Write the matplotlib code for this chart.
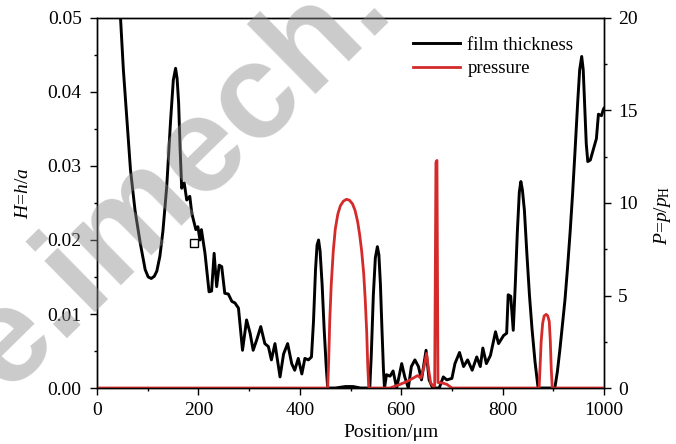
import matplotlib
matplotlib.use("Agg")
import matplotlib.pyplot as plt
from matplotlib.ticker import MultipleLocator, FormatStrFormatter

# film thickness H = h/a along the contact (left axis)
pos_h = [30, 40, 46.7, 52, 58.5, 66, 75, 85, 95, 101, 107, 113, 118, 124, 130,
         137.5, 145, 150.5, 155, 158, 161, 164, 167, 172, 177, 183, 187, 195,
         199, 203, 206, 213, 221, 226, 231, 236, 241, 246, 252, 259, 266, 272,
         279, 287, 295, 302, 308, 315, 323, 331, 338, 344, 351, 361, 368, 376,
         384, 390, 397, 404, 410, 417, 423, 427, 431, 434, 437, 440, 444, 448,
         452, 455, 470, 490, 505, 520, 538, 541, 545, 549, 553, 556, 559, 562,
         565, 567, 571, 578, 584, 591, 601, 607, 614, 620, 627, 634, 640, 649,
         655, 662, 675, 683, 690, 700, 706, 715, 723, 731, 740, 749, 756, 761,
         768, 776, 786, 792, 802, 808, 811, 816, 821, 825, 829, 833, 836, 839,
         843, 848, 853, 858, 864, 870, 903, 908, 913, 918, 923, 928, 933, 938,
         943, 948, 952, 956, 959, 962, 965, 968, 973, 982, 985, 989, 995, 999,
         1000]
film_h = [0.066, 0.056, 0.0496, 0.0430, 0.0367, 0.0295, 0.0240, 0.0197, 0.0160,
          0.0150, 0.0148, 0.0151, 0.0158, 0.0178, 0.0212, 0.0272, 0.0360,
          0.0416, 0.0432, 0.0418, 0.0385, 0.0322, 0.0270, 0.0277, 0.0254,
          0.0259, 0.0236, 0.0214, 0.0218, 0.0200, 0.0214, 0.0182, 0.0130,
          0.0131, 0.0182, 0.0137, 0.0166, 0.0164, 0.0128, 0.0127, 0.0117,
          0.0115, 0.0108, 0.0051, 0.0092, 0.0074, 0.0051, 0.0065, 0.0083,
          0.0060, 0.0056, 0.0038, 0.0060, 0.0015, 0.0046, 0.0060, 0.0033,
          0.0024, 0.0040, 0.0019, 0.0040, 0.0038, 0.0042, 0.0090, 0.0160,
          0.0193, 0.0200, 0.0185, 0.0140, 0.0080, 0.0030, 0.0, 0.0, 0.0002,
          0.0002, 0.0, 0.0, 0.0045, 0.0125, 0.0176, 0.0191, 0.0180, 0.0140,
          0.0080, 0.0025, 0.0, 0.0018, 0.0016, 0.0023, 0.0, 0.0033, 0.0015, 0.0,
          0.0029, 0.0038, 0.0029, 0.0011, 0.0051, 0.0011, 0.0, 0.0, 0.0015,
          0.0011, 0.0013, 0.0033, 0.0048, 0.0029, 0.0038, 0.0024, 0.0042,
          0.0029, 0.0054, 0.0033, 0.0044, 0.0076, 0.0060, 0.0071, 0.0074,
          0.0126, 0.0124, 0.0078, 0.0140, 0.0210, 0.0265, 0.0279, 0.0268,
          0.0240, 0.0180, 0.0125, 0.0080, 0.0035, 0.0, 0.0, 0.0022, 0.0052,
          0.0085, 0.0119, 0.0162, 0.0209, 0.0262, 0.0322, 0.0385, 0.0430,
          0.0448, 0.0430, 0.0380, 0.0330, 0.0306, 0.0308, 0.0330, 0.0337,
          0.0370, 0.0368, 0.0377, 0.0378]

# pressure P = p/pH (right axis)
pos_p = [0, 455, 457, 459, 462, 466, 470, 475, 480, 486, 492, 498, 504, 509,
         514, 518, 522, 526, 529, 532, 534, 536, 578, 598, 611, 624, 632, 639,
         645, 650, 654, 658, 663, 666, 668.5, 670.5, 672.5, 675, 680, 690, 700,
         872, 874, 876, 879, 882, 886, 889, 892, 894, 896, 898, 1000]
pressure = [0, 0, 1.5, 3.6, 5.6, 7.4, 8.6, 9.4, 9.85, 10.1, 10.2, 10.15, 9.95,
            9.6, 9.0, 8.3, 7.4, 6.2, 4.8, 3.0, 1.2, 0, 0, 0.2, 0.35, 0.54, 0.67,
            0.54, 1.15, 1.87, 1.0, 0.28, 0.1, 0.1, 12.2, 12.3, 0.3, 0.28, 0.28,
            0.2, 0, 0, 1.2, 2.5, 3.5, 3.9, 3.98, 3.9, 3.6, 2.6, 1.0, 0, 0]

# small open square on the film curve
marker_pos = [192]
marker_h = [0.0196]

plt.rcParams["font.family"] = ["Liberation Serif", "DejaVu Serif"]
plt.rcParams["mathtext.fontset"] = "custom"
plt.rcParams["mathtext.it"] = "Liberation Serif:italic"
plt.rcParams["mathtext.rm"] = "Liberation Serif"

RED = "#d42a2a"
FS = 14

fig = plt.figure(figsize=(6.76, 4.44), dpi=100)
ax = fig.add_axes([0.1435, 0.1261, 0.75, 0.8334])
ax2 = ax.twinx()

film_line, = ax.plot(pos_h, film_h, color="black", lw=2.1, label="film thickness")
ax.plot(marker_pos, marker_h, "s", ms=5.5, mfc="none", mec="black", mew=1.0)
press_line, = ax2.plot(pos_p, pressure, color=RED, lw=2.0, label="pressure")

ax.set_xlim(0, 1000)
ax.set_ylim(0, 0.05)
ax2.set_ylim(0, 20)

ax.xaxis.set_major_locator(MultipleLocator(200))
ax.xaxis.set_minor_locator(MultipleLocator(100))
ax.yaxis.set_major_locator(MultipleLocator(0.01))
ax.yaxis.set_minor_locator(MultipleLocator(0.005))
ax.yaxis.set_major_formatter(FormatStrFormatter("%.2f"))
ax2.yaxis.set_major_locator(MultipleLocator(5))
ax2.yaxis.set_minor_locator(MultipleLocator(2.5))

for a in (ax, ax2):
    a.tick_params(which="major", direction="out", length=5, width=1,
                  labelsize=FS, pad=5)
    a.tick_params(which="minor", direction="out", length=2.5, width=1)
    for s in a.spines.values():
        s.set_linewidth(1.0)
ax.tick_params(axis="x", which="both", top=False)
ax.tick_params(axis="y", which="major", pad=6)
ax2.tick_params(axis="y", which="major", pad=5)

ax.set_xlabel("Position/μm", fontsize=FS)
ax.xaxis.set_label_coords(0.58, -0.097)
ax.set_ylabel(r"$H$=$h$/$a$", fontsize=FS)
ax.yaxis.set_label_coords(-0.128, 0.526)
ax2.set_ylabel(r"$P$=$p$/$p_{\mathrm{H}}$", fontsize=FS)
ax2.yaxis.set_label_coords(1.095, 0.468)

ax2.legend(handles=[film_line, press_line], loc="upper left",
           bbox_to_anchor=(0.623, 0.95), frameon=False, fontsize=13.5,
           handlelength=2.5, handletextpad=0.4, labelspacing=0.35,
           borderpad=0, borderaxespad=0)

# diagonal watermark of the source page
fig.text(0.296, 0.545, "e.imech.", fontsize=98, family="Liberation Sans",
         weight="bold", color="0.55", alpha=0.45, rotation=44.5,
         rotation_mode="anchor", ha="center", va="baseline", zorder=10)

fig.savefig("out.png", dpi=100)
